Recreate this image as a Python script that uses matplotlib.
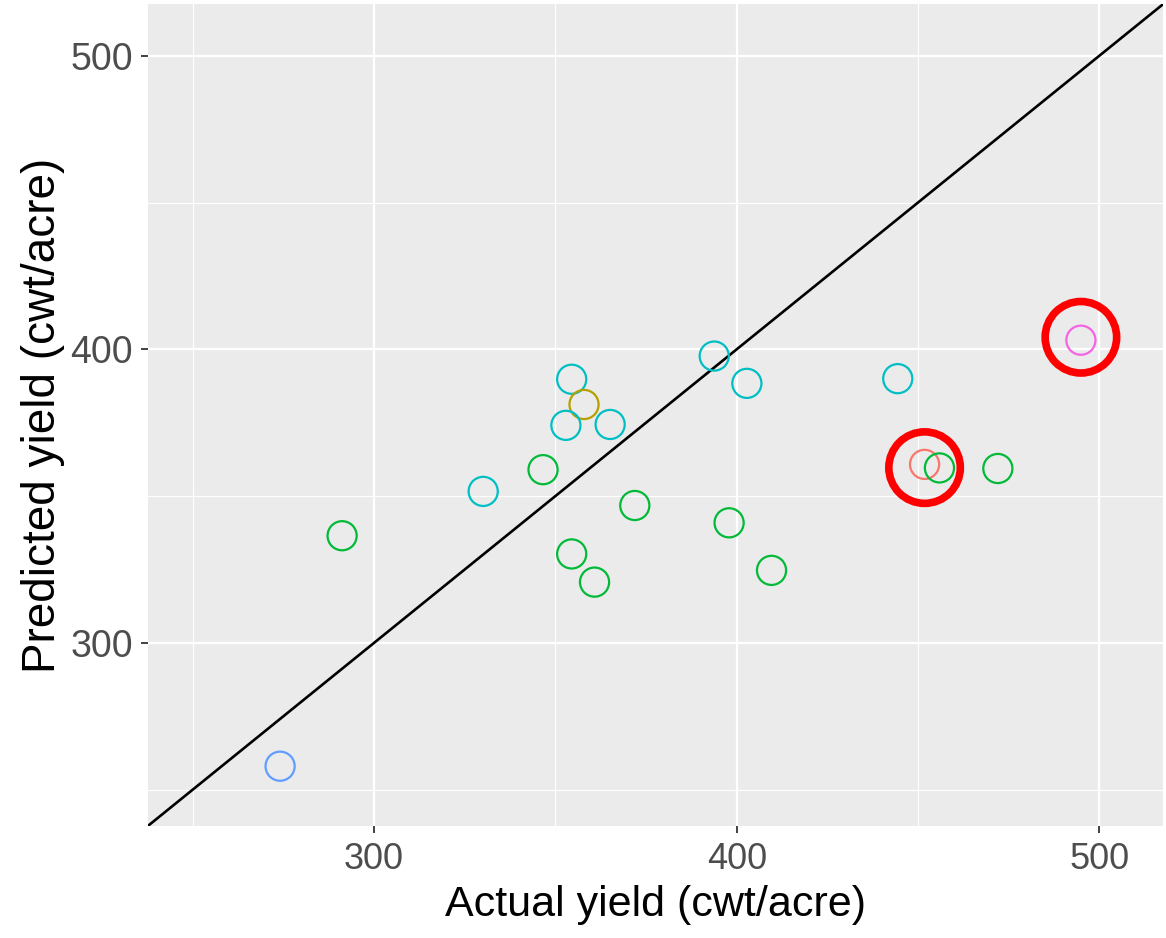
import matplotlib
matplotlib.use("Agg")
import matplotlib.pyplot as plt
from matplotlib.ticker import MultipleLocator

# observed vs predicted yield, one point per field
actual = [274.1, 291.2, 330.1, 346.6, 354.5, 357.9, 352.9, 365.1, 354.5, 360.8,
          371.9, 393.8, 402.8, 397.9, 409.6, 444.4, 451.8, 455.9, 472.0, 494.9]
predicted = [258.0, 336.5, 351.6, 359.0, 389.8, 381.2, 374.1, 374.4, 330.3, 320.7,
             346.8, 397.7, 388.4, 340.9, 324.7, 390.0, 360.8, 359.6, 359.4, 403.1]
group = ["blue", "green", "cyan", "green", "cyan", "olive", "cyan", "cyan", "green", "green",
         "green", "cyan", "cyan", "green", "green", "cyan", "salmon", "green", "green", "pink"]

# highlighted outliers
flag_x = [451.8, 494.9]
flag_y = [359.7, 404.1]

palette = {"salmon": "#F8766D", "olive": "#B79F00", "green": "#00BA38",
           "cyan": "#00BFC4", "blue": "#619CFF", "pink": "#F564E3"}

xlim = (237.7, 517.4)
ylim = (237.5, 517.7)

plt.rcParams["font.family"] = ["Liberation Sans", "DejaVu Sans"]

fig = plt.figure(figsize=(11.66, 9.38), dpi=100)
ax = fig.add_axes([0.127, 0.119, 0.870, 0.877])
ax.set_facecolor("#EBEBEB")
for s in ax.spines.values():
    s.set_visible(False)

ax.xaxis.set_major_locator(MultipleLocator(100))
ax.yaxis.set_major_locator(MultipleLocator(100))
ax.xaxis.set_minor_locator(MultipleLocator(50))
ax.yaxis.set_minor_locator(MultipleLocator(50))
ax.grid(which="major", color="white", linewidth=1.6)
ax.grid(which="minor", color="white", linewidth=0.8)
ax.set_axisbelow(True)
ax.tick_params(which="minor", length=0)
ax.tick_params(which="major", length=5, width=1.3, color="#333333",
               labelcolor="#4D4D4D", pad=6)
ax.tick_params(axis="x", labelsize=26)
ax.tick_params(axis="y", labelsize=27)

# identity line
ax.plot(xlim, xlim, color="black", linewidth=1.9, zorder=2)

cols = [palette[g] for g in group]
ax.scatter(actual, predicted, s=440, facecolors="none", edgecolors=cols,
           linewidths=1.6, zorder=3)
ax.scatter(flag_x, flag_y, s=2650, facecolors="none", edgecolors="#FF0000",
           linewidths=5.5, zorder=4)

ax.set_xlim(*xlim)
ax.set_ylim(*ylim)
ax.set_xlabel("Actual yield (cwt/acre)", fontsize=31, labelpad=6)
ax.set_ylabel("Predicted yield (cwt/acre)", fontsize=33, labelpad=4)

fig.savefig("out.png", dpi=100)
